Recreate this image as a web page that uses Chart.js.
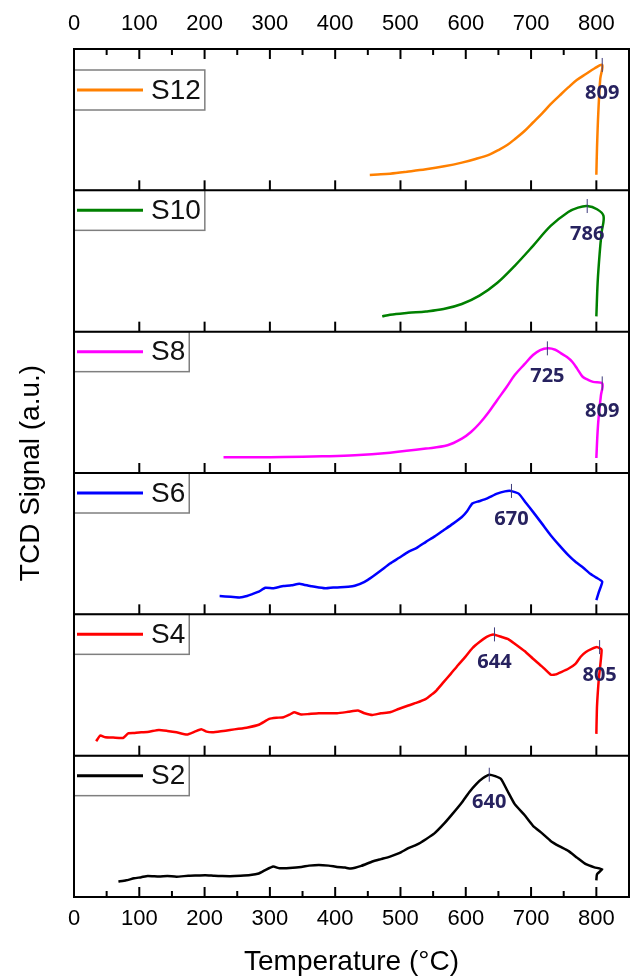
<!DOCTYPE html>
<html>
<head>
<meta charset="utf-8">
<script src="https://cdn.jsdelivr.net/npm/chart.js@4.4.0/dist/chart.umd.min.js"></script>
<style>
  html, body { margin: 0; padding: 0; background: #fff; }
  canvas { display: block; }
</style>
</head>
<body>
<canvas id="tpr" width="630" height="976"></canvas>
<script>
// Temperature ticks
const xTicks = [0, 100, 200, 300, 400, 500, 600, 700, 800];
const xMinor = [50, 150, 250, 350, 450, 550, 650, 750];

// S12
const tS12 = [453, 470, 484, 510, 539, 567, 594, 615, 637, 650, 664, 675, 690, 703, 717, 730, 744, 757, 770, 784, 797, 809, 806, 803, 801, 800];
const yS12 = [.109, .113, .118, .132, .149, .17, .196, .222, .255, .285, .322, .362, .42, .48, .545, .61, .672, .728, .78, .823, .862, .887, .79, .55, .3, .11];

// S10
const tS10 = [472, 484, 512, 539, 566, 594, 621, 648, 675, 703, 730, 757, 772, 786, 801, 811, 808, 805, 802, 800];
const yS10 = [.108, .12, .133, .143, .16, .196, .255, .344, .466, .607, .748, .847, .878, .889, .866, .819, .70, .55, .35, .108];

// S8
const tS8 = [229, 280, 321, 380, 430, 484, 539, 572, 594, 608, 621, 635, 648, 662, 675, 690, 703, 714, 726, 737, 746, 755, 763, 771, 779, 787, 795, 809, 807, 804, 802, 800];
const yS8 = [.111, .112, .113, .118, .125, .144, .173, .196, .243, .29, .35, .43, .515, .605, .693, .77, .835, .87, .882, .872, .846, .82, .787, .735, .681, .66, .645, .634, .55, .42, .30, .106];

// S6
const tS6 = [223, 240, 255, 265, 272, 283, 293, 305, 315, 321, 333, 345, 352, 364, 375, 386, 397, 408, 420, 430, 445, 457, 470, 484, 498, 512, 525, 539, 552, 566, 580, 594, 602, 610, 620, 632, 648, 660, 669, 681, 692, 703, 717, 730, 743, 757, 768, 780, 790, 800, 809, 804, 800];
const yS6 = [.129, .125, .12, .13, .141, .16, .188, .185, .195, .2, .205, .216, .21, .198, .19, .184, .19, .191, .195, .202, .23, .266, .31, .36, .4, .442, .47, .513, .55, .595, .64, .689, .73, .784, .8, .819, .854, .87, .873, .854, .79, .725, .64, .56, .49, .419, .372, .33, .289, .26, .231, .16, .101];

// S4
const tS4 = [34, 40, 48, 60, 75, 83, 93, 103, 115, 130, 143, 157, 173, 185, 195, 203, 212, 225, 239, 252, 266, 283, 299, 310, 321, 330, 337, 348, 360, 375, 390, 403, 420, 435, 445, 457, 470, 484, 497, 512, 525, 539, 547, 555, 566, 577, 588, 599, 610, 621, 632, 642, 655, 665, 675, 690, 703, 717, 730, 738, 746, 757, 768, 776, 784, 793, 801, 808, 804, 801, 800];
const yS4 = [.102, .142, .13, .128, .125, .158, .16, .165, .17, .182, .175, .165, .149, .17, .187, .17, .165, .172, .182, .19, .2, .219, .26, .268, .272, .29, .307, .291, .295, .3, .3, .3, .31, .319, .3, .288, .3, .307, .33, .355, .375, .402, .43, .461, .52, .579, .64, .697, .76, .804, .84, .858, .84, .825, .792, .74, .686, .63, .574, .575, .591, .615, .65, .7, .733, .755, .768, .749, .556, .35, .154];

// S2
const tS2 = [68, 80, 92, 103, 113, 130, 143, 157, 175, 190, 201, 215, 227, 239, 255, 270, 283, 293, 305, 315, 330, 348, 360, 375, 390, 403, 415, 424, 440, 457, 470, 484, 498, 512, 525, 539, 552, 566, 580, 594, 605, 616, 626, 636, 645, 654, 664, 675, 690, 703, 717, 730, 743, 757, 770, 784, 797, 809, 801, 800];
const yS2 = [.109, .118, .132, .14, .149, .145, .148, .144, .15, .152, .154, .15, .148, .147, .15, .155, .166, .19, .215, .203, .206, .213, .222, .227, .222, .213, .208, .201, .22, .251, .268, .286, .31, .345, .37, .409, .45, .515, .59, .669, .74, .799, .84, .865, .855, .835, .75, .657, .58, .504, .45, .397, .36, .326, .28, .232, .21, .196, .161, .118];

// panels, top to bottom
const names = ['S12', 'S10', 'S8', 'S6', 'S4', 'S2'];
const temps = [tS12, tS10, tS8, tS6, tS4, tS2];
const signals = [yS12, yS10, yS8, yS6, yS4, yS2];
const colors = ['#ff8000', '#008000', '#ff00ff', '#0000ff', '#ff0000', '#000000'];
const tensions = [0.35, 0.35, 0.35, 0.15, 0.15, 0.15];

// marked peaks
const peakT = [[809], [786], [725, 809], [670], [644, 805], [636]];
const peakY = [[.887], [.889], [.882, .634], [.873], [.858, .768], [.865]];
const peakLabel = [['809'], ['786'], ['725', '809'], ['670'], ['644', '805'], ['640']];

const legendDrop = [21, 0, 0, 0, 0, 0];

const FONT = '"Liberation Sans", Arial, sans-serif';

const panelDecor = {
    id: 'panelDecor',
    afterDraw(chart) {
        const ctx = chart.ctx;
        const a = chart.chartArea;
        const sx = chart.scales.x;
        const seg = (x1, y1, x2, y2) => {
            ctx.beginPath(); ctx.moveTo(x1, y1); ctx.lineTo(x2, y2); ctx.stroke();
        };
        ctx.save();

        // peak markers and labels
        ctx.font = 'bold 20px "Open Sans", sans-serif';
        ctx.textAlign = 'center';
        ctx.textBaseline = 'middle';
        names.forEach((n, i) => {
            const sy = chart.scales['y' + i];
            peakT[i].forEach((t, k) => {
                const px = sx.getPixelForValue(t);
                const py = sy.getPixelForValue(peakY[i][k]);
                ctx.strokeStyle = '#3d3b7c';
                ctx.lineWidth = 1;
                seg(px, py - 7, px, py + 7);
                ctx.fillStyle = '#27225f';
                ctx.fillText(peakLabel[i][k], px, py + 28);
            });
        });

        // legend boxes
        ctx.font = '28px ' + FONT;
        ctx.textAlign = 'left';
        names.forEach((n, i) => {
            const sy = chart.scales['y' + i];
            const top = sy.top + legendDrop[i];
            const w = 77 + ctx.measureText(n).width + 4;
            ctx.fillStyle = '#fff';
            ctx.fillRect(a.left, top, w, 40);
            ctx.strokeStyle = '#7f7f7f';
            ctx.lineWidth = 1.5;
            ctx.strokeRect(a.left, top, w, 40);
            ctx.strokeStyle = colors[i];
            ctx.lineWidth = 3;
            seg(a.left + 3, top + 20, a.left + 69, top + 20);
            ctx.fillStyle = '#111';
            ctx.fillText(n, a.left + 77, top + 21);
        });

        // frame, separators, inward ticks
        ctx.strokeStyle = '#000';
        ctx.lineWidth = 2;
        ctx.strokeRect(a.left, a.top, a.right - a.left, a.bottom - a.top);
        names.forEach((n, i) => {
            const sy = chart.scales['y' + i];
            seg(a.left, sy.bottom, a.right, sy.bottom);
            xTicks.forEach(v => {
                if (v === 0) return;
                const px = sx.getPixelForValue(v);
                seg(px, sy.bottom, px, sy.bottom - 10);
            });
        });
        const last = chart.scales['y' + (names.length - 1)];
        xTicks.forEach(v => {
            if (v === 0) return;
            const px = sx.getPixelForValue(v);
            seg(px, a.top, px, a.top + 10);
        });
        xMinor.forEach(v => {
            const px = sx.getPixelForValue(v);
            seg(px, a.top, px, a.top + 6);
            seg(px, last.bottom, px, last.bottom - 6);
        });
        ctx.restore();
    }
};

const panelAxis = {
    type: 'linear', position: 'left', stack: 'panels', min: 0, max: 1,
    ticks: { display: false },
    grid: { display: false, drawTicks: false },
    border: { display: false }
};

const tempAxis = (pos, pad, height) => ({
    type: 'linear', position: pos, min: 0, max: 850,
    afterBuildTicks: s => { s.ticks = xTicks.map(v => ({ value: v })); },
    afterFit: s => { s.height = height; },
    ticks: { font: { family: FONT, size: 22 }, color: '#000', padding: pad, maxRotation: 0 },
    grid: { display: false, drawTicks: false },
    border: { display: false }
});

const bottomAxis = tempAxis('bottom', 9, 79);
bottomAxis.title = {
    display: true, text: 'Temperature (°C)', color: '#000',
    font: { family: FONT, size: 28, lineHeight: 1 }, padding: 0
};

const tprConfig = {
    type: 'line',
    data: {
        datasets: names.map((n, i) => ({
            label: n,
            data: temps[i].map((t, k) => ({ x: t, y: signals[i][k] })),
            yAxisID: 'y' + i,
            borderColor: colors[i],
            borderWidth: 2.5,
            pointRadius: 0,
            tension: tensions[i],
            fill: false
        }))
    },
    options: {
        responsive: false,
        animation: false,
        devicePixelRatio: 1,
        layout: { padding: { right: 1 } },
        plugins: { legend: { display: false }, tooltip: { enabled: false } },
        scales: {
            x: bottomAxis,
            x2: tempAxis('top', 12, 49),
            y5: { ...panelAxis },
            y4: { ...panelAxis },
            y3: { ...panelAxis },
            y2: { ...panelAxis },
            y1: { ...panelAxis },
            y0: { ...panelAxis },
            yt: {
                type: 'linear', position: 'left',
                afterFit: s => { s.width = 74; },
                ticks: { display: false },
                grid: { display: false, drawTicks: false },
                border: { display: false },
                title: {
                    display: true, text: 'TCD Signal (a.u.)', color: '#000',
                    font: { family: FONT, size: 28, lineHeight: 1 }, padding: { top: 17, bottom: 0 }
                }
            }
        }
    },
    plugins: [panelDecor]
};

const tprChart = new Chart(
    document.getElementById('tpr'),
    tprConfig
);
</script>
</body>
</html>
